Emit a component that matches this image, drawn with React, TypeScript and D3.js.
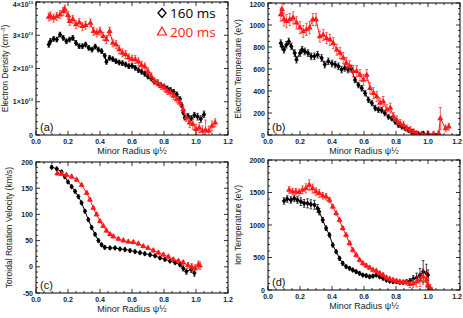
import React from "react";
import * as d3 from "d3";

// minor radius axis shared by all panels
const xTicks = [0, 0.2, 0.4, 0.6, 0.8, 1.0, 1.2];

// [x, y, err]
const density160 = [
  [0.08, 2.72, 0.08], [0.09, 2.82, 0.08], [0.11, 2.89, 0.07], [0.13, 2.87, 0.07], [0.15, 3.02, 0.07],
  [0.17, 2.92, 0.07], [0.19, 2.82, 0.07], [0.21, 2.87, 0.07], [0.23, 2.92, 0.07], [0.25, 2.77, 0.07],
  [0.27, 2.67, 0.07], [0.29, 2.67, 0.07], [0.31, 2.72, 0.07], [0.33, 2.62, 0.07], [0.35, 2.57, 0.07],
  [0.37, 2.66, 0.07], [0.39, 2.57, 0.07], [0.41, 2.52, 0.07], [0.43, 2.38, 0.07], [0.44, 2.2, 0.07],
  [0.46, 2.32, 0.07], [0.48, 2.28, 0.07], [0.5, 2.22, 0.07], [0.52, 2.18, 0.07], [0.54, 2.16, 0.07],
  [0.56, 2.12, 0.07], [0.58, 2.07, 0.07], [0.6, 2.08, 0.07], [0.62, 2.02, 0.07], [0.64, 1.95, 0.07],
  [0.66, 1.9, 0.07], [0.68, 1.84, 0.07], [0.7, 1.76, 0.07], [0.72, 1.7, 0.07], [0.74, 1.62, 0.07],
  [0.76, 1.56, 0.07], [0.78, 1.5, 0.07], [0.8, 1.46, 0.07], [0.82, 1.4, 0.07], [0.84, 1.36, 0.07],
  [0.86, 1.3, 0.07], [0.88, 1.22, 0.07], [0.9, 1.08, 0.07], [0.91, 0.9, 0.07], [0.92, 0.68, 0.07],
  [0.93, 0.52, 0.07], [0.95, 0.57, 0.08], [0.97, 0.5, 0.08], [0.99, 0.6, 0.08], [1.01, 0.55, 0.1],
  [1.03, 0.48, 0.1], [1.05, 0.62, 0.1],
];
const density200 = [
  [0.08, 3.55, 0.12], [0.09, 3.58, 0.12], [0.11, 3.52, 0.12], [0.13, 3.57, 0.12], [0.15, 3.62, 0.12],
  [0.17, 3.72, 0.12], [0.18, 3.79, 0.12], [0.2, 3.6, 0.12], [0.21, 3.42, 0.12], [0.23, 3.48, 0.12],
  [0.25, 3.32, 0.12], [0.27, 3.38, 0.12], [0.29, 3.27, 0.12], [0.31, 3.3, 0.12], [0.34, 3.37, 0.12],
  [0.36, 3.12, 0.12], [0.38, 3.07, 0.12], [0.4, 3.12, 0.12], [0.42, 2.97, 0.12], [0.44, 2.87, 0.12],
  [0.46, 3.12, 0.12], [0.48, 2.77, 0.12], [0.5, 2.72, 0.12], [0.52, 2.57, 0.12], [0.54, 2.47, 0.12],
  [0.56, 2.42, 0.12], [0.58, 2.32, 0.12], [0.6, 2.28, 0.12], [0.62, 2.27, 0.12], [0.64, 2.2, 0.12],
  [0.66, 2.1, 0.12], [0.68, 2.05, 0.12], [0.7, 1.9, 0.12], [0.72, 1.77, 0.1], [0.74, 1.62, 0.1],
  [0.76, 1.57, 0.1], [0.78, 1.47, 0.1], [0.8, 1.42, 0.1], [0.82, 1.32, 0.1], [0.84, 1.27, 0.1],
  [0.86, 1.17, 0.1], [0.88, 1.07, 0.1], [0.9, 0.97, 0.1], [0.92, 0.77, 0.1], [0.94, 0.52, 0.12],
  [0.96, 0.37, 0.15], [0.98, 0.32, 0.15], [1.0, 0.17, 0.15], [1.02, 0.22, 0.15], [1.04, 0.12, 0.15],
  [1.06, 0.15, 0.3], [1.08, 0.12, 0.15], [1.1, 0.27, 0.15], [1.12, 0.37, 0.12],
];

const te160 = [
  [0.08, 835, 30], [0.088, 805, 30], [0.1, 775, 30], [0.115, 820, 30], [0.13, 850, 30], [0.146, 805, 30],
  [0.167, 745, 30], [0.178, 685, 30], [0.2, 745, 30], [0.213, 775, 30], [0.23, 760, 30], [0.25, 745, 30],
  [0.27, 715, 30], [0.29, 715, 30], [0.31, 730, 30], [0.335, 700, 30], [0.355, 640, 30], [0.377, 670, 30],
  [0.4, 650, 30], [0.42, 640, 30], [0.44, 625, 30], [0.46, 595, 30], [0.48, 610, 30], [0.5, 595, 30],
  [0.52, 605, 30], [0.544, 500, 25], [0.565, 455, 25], [0.586, 425, 25], [0.607, 380, 25], [0.628, 320, 25],
  [0.649, 290, 25], [0.67, 245, 25], [0.69, 230, 25], [0.71, 225, 25], [0.73, 200, 25], [0.753, 165, 20],
  [0.774, 150, 20], [0.795, 120, 20], [0.816, 90, 20], [0.837, 75, 20], [0.858, 60, 20], [0.879, 45, 20],
  [0.9, 30, 20], [0.92, 15, 15], [0.94, 10, 15], [0.97, 15, 15],
];
const te200 = [
  [0.08, 1095, 60], [0.088, 1140, 60], [0.1, 1050, 60], [0.115, 1035, 60], [0.136, 1050, 55], [0.157, 1065, 55],
  [0.178, 1020, 55], [0.2, 975, 55], [0.22, 940, 55], [0.24, 960, 55], [0.26, 975, 55], [0.28, 1050, 55],
  [0.3, 1050, 55], [0.324, 895, 50], [0.345, 910, 50], [0.366, 880, 50], [0.387, 865, 50], [0.408, 835, 50],
  [0.43, 775, 50], [0.45, 745, 50], [0.47, 700, 50], [0.49, 655, 50], [0.51, 625, 50], [0.533, 580, 50],
  [0.554, 580, 50], [0.575, 545, 50], [0.596, 500, 50], [0.617, 545, 50], [0.638, 425, 50], [0.659, 380, 50],
  [0.68, 350, 45], [0.7, 290, 45], [0.72, 305, 45], [0.743, 230, 45], [0.764, 245, 45], [0.785, 165, 40],
  [0.805, 135, 40], [0.826, 105, 35], [0.847, 90, 35], [0.868, 60, 30], [0.89, 45, 30], [0.91, 30, 25],
  [0.93, 15, 20], [0.96, 10, 20], [1.0, 15, 20], [1.035, 10, 20], [1.067, 15, 20], [1.077, 150, 100],
  [1.11, 60, 30], [1.13, 75, 30],
];

const vt160 = [
  [0.098, 190, 3], [0.13, 187, 3], [0.16, 181, 3], [0.18, 172, 3], [0.2, 162, 3], [0.223, 153, 3],
  [0.244, 144, 3], [0.265, 134, 3], [0.285, 122, 3], [0.306, 106, 3], [0.327, 90, 3], [0.348, 75, 3],
  [0.369, 62, 3], [0.39, 50, 3], [0.41, 42, 3], [0.43, 37, 3], [0.4625, 36, 3], [0.494, 36, 3],
  [0.525, 34, 3], [0.556, 33, 3], [0.5875, 31, 3], [0.619, 29, 3], [0.65, 27, 3], [0.68, 25, 3],
  [0.7125, 23, 3], [0.744, 21, 3], [0.775, 17, 3], [0.806, 14, 3], [0.8375, 11, 3], [0.869, 8, 3],
  [0.9, 4, 4], [0.92, -3, 5], [0.94, -9, 5], [0.97, -5, 6], [0.99, -12, 6],
];
const vt200 = [
  [0.133, 178, 3], [0.16, 177, 3], [0.19, 175, 3], [0.223, 172, 3], [0.254, 166, 3], [0.285, 156, 3],
  [0.317, 141, 3], [0.3375, 128, 3], [0.358, 112, 3], [0.379, 100, 3], [0.4, 87, 3], [0.42, 78, 3],
  [0.44, 69, 3], [0.4625, 62, 3], [0.483, 58, 3], [0.515, 53, 3], [0.546, 50, 3], [0.577, 48, 3],
  [0.608, 47, 3], [0.64, 44, 3], [0.67, 39, 3], [0.7, 36, 3], [0.733, 31, 3], [0.765, 27, 3],
  [0.796, 23, 3], [0.827, 19, 3], [0.858, 14, 3], [0.89, 11, 3], [0.92, 8, 4], [0.95, 3, 5],
  [0.973, 0, 6], [0.994, -3, 7], [1.015, 4, 7], [1.025, 2, 7],
];

const ti160 = [
  [0.1, 1370, 50], [0.12, 1400, 50], [0.143, 1385, 50], [0.164, 1410, 50], [0.184, 1385, 50], [0.205, 1360, 60],
  [0.226, 1333, 60], [0.247, 1333, 70], [0.268, 1318, 70], [0.29, 1310, 70], [0.31, 1256, 60], [0.32, 1205, 50],
  [0.342, 1077, 40], [0.363, 950, 35], [0.384, 846, 30], [0.405, 692, 30], [0.426, 590, 30], [0.447, 487, 30],
  [0.467, 410, 30], [0.488, 360, 25], [0.51, 333, 25], [0.53, 308, 25], [0.551, 282, 25], [0.572, 256, 25],
  [0.593, 230, 25], [0.614, 220, 25], [0.635, 205, 25], [0.656, 215, 25], [0.677, 230, 25], [0.698, 205, 25],
  [0.719, 180, 25], [0.74, 154, 25], [0.761, 138, 25], [0.782, 128, 25], [0.803, 128, 25], [0.824, 118, 25],
  [0.845, 118, 30], [0.866, 128, 30], [0.887, 138, 40], [0.908, 170, 50], [0.929, 190, 70], [0.95, 230, 100],
  [0.97, 282, 170], [0.99, 256, 140], [1.0, 230, 80],
];
const ti200 = [
  [0.132, 1540, 50], [0.153, 1513, 50], [0.174, 1513, 50], [0.195, 1503, 50], [0.216, 1540, 60], [0.237, 1564, 70],
  [0.258, 1615, 80], [0.279, 1560, 70], [0.3, 1513, 60], [0.32, 1487, 60], [0.342, 1450, 50], [0.363, 1436, 50],
  [0.384, 1385, 40], [0.405, 1282, 30], [0.426, 1180, 30], [0.447, 1077, 30], [0.467, 950, 30], [0.488, 846, 30],
  [0.51, 718, 30], [0.53, 615, 30], [0.551, 538, 30], [0.572, 462, 30], [0.593, 410, 30], [0.614, 374, 30],
  [0.635, 344, 30], [0.656, 308, 30], [0.677, 292, 30], [0.698, 256, 30], [0.719, 231, 30], [0.74, 190, 30],
  [0.761, 170, 30], [0.782, 154, 30], [0.803, 138, 30], [0.824, 128, 30], [0.845, 118, 30], [0.866, 118, 40],
  [0.887, 87, 50], [0.908, 102, 60], [0.929, 128, 80], [0.95, 154, 100], [0.97, 205, 120], [0.99, 154, 120],
  [1.0, 77, 100], [1.013, 26, 60], [1.023, 0, 40],
];

const densityTicks = [0, 1, 2, 3, 4];
const teTicks = [0, 200, 400, 600, 800, 1000, 1200];
const vtTicks = [-50, 0, 50, 100, 150, 200];
const tiTicks = [0, 500, 1000, 1500, 2000];

const RED = "#ff1a1a";
const tickFont = "'Liberation Sans', Arial, sans-serif";

type Pt = number[];
type Box = { x0: number; x1: number; y0: number; y1: number };

function Panel({ box, yDomain, yTicks, yMinor, xMinor, title, tag, black, red, sciLabels, titleX }: {
  box: Box; yDomain: [number, number]; yTicks: number[]; yMinor: number; xMinor: number;
  title: React.ReactNode; tag: string; black: Pt[]; red: Pt[]; sciLabels?: boolean; titleX: number;
}) {
  const x = d3.scaleLinear().domain([0, 1.2]).range([box.x0, box.x1]);
  const y = d3.scaleLinear().domain(yDomain).range([box.y1, box.y0]);
  const line = d3.line<Pt>().x((d) => x(d[0])).y((d) => y(d[1]));
  const xMinorTicks = d3.range(0, 1.2 + 1e-9, xMinor);
  const yMinorTicks = d3.range(yDomain[0], yDomain[1] + 1e-9, yMinor);
  const tri = d3.symbol(d3.symbolTriangle, 16)()!;
  const dia = "M0,-2.9L2.2,0L0,2.9L-2.2,0Z";
  const clipId = "clip" + tag;
  const errBars = (pts: Pt[], color: string) =>
    pts.map((d, i) => (
      <g key={i} stroke={color} strokeWidth={0.7}>
        <line x1={x(d[0])} x2={x(d[0])} y1={y(d[1] - d[2])} y2={y(d[1] + d[2])} />
        <line x1={x(d[0]) - 1.3} x2={x(d[0]) + 1.3} y1={y(d[1] - d[2])} y2={y(d[1] - d[2])} />
        <line x1={x(d[0]) - 1.3} x2={x(d[0]) + 1.3} y1={y(d[1] + d[2])} y2={y(d[1] + d[2])} />
      </g>
    ));
  return (
    <g>
      <defs>
        <clipPath id={clipId}>
          <rect x={box.x0} y={box.y0} width={box.x1 - box.x0} height={box.y1 - box.y0} />
        </clipPath>
      </defs>
      <g clipPath={`url(#${clipId})`}>
        {errBars(black, "#000")}
        <path d={line(black)!} fill="none" stroke="#000" strokeWidth={1} />
        {black.map((d, i) => (
          <path key={i} d={dia} transform={`translate(${x(d[0])},${y(d[1])})`} fill="#000" />
        ))}
        {errBars(red, RED)}
        <path d={line(red)!} fill="none" stroke={RED} strokeWidth={1} />
        {red.map((d, i) => (
          <path key={i} d={tri} transform={`translate(${x(d[0])},${y(d[1])})`} fill={RED} />
        ))}
      </g>
      <rect x={box.x0} y={box.y0} width={box.x1 - box.x0} height={box.y1 - box.y0} fill="none" stroke="#000" strokeWidth={1} />
      <g stroke="#000" strokeWidth={0.8}>
        {xMinorTicks.map((t, i) => {
          const major = xTicks.some((m) => Math.abs(m - t) < 1e-6);
          const len = major ? 4 : 2;
          return (
            <g key={i}>
              <line x1={x(t)} x2={x(t)} y1={box.y1} y2={box.y1 - len} />
              <line x1={x(t)} x2={x(t)} y1={box.y0} y2={box.y0 + len} />
            </g>
          );
        })}
        {yMinorTicks.map((t, i) => {
          const major = yTicks.some((m) => Math.abs(m - t) < 1e-6);
          const len = major ? 4 : 2;
          return (
            <g key={i}>
              <line x1={box.x0} x2={box.x0 + len} y1={y(t)} y2={y(t)} />
              <line x1={box.x1} x2={box.x1 - len} y1={y(t)} y2={y(t)} />
            </g>
          );
        })}
      </g>
      <g fontFamily={tickFont} fontSize={7} fontWeight="bold" fill="#222">
        {xTicks.map((t) => (
          <text key={t} x={Math.min(x(t), 457)} y={box.y1 + 9} textAnchor="middle">{d3.format(".1f")(t)}</text>
        ))}
        {yTicks.map((t) => (
          <text key={t} x={box.x0 - 3} y={Math.max(y(t) + 2.5, 7)} textAnchor="end">
            {sciLabels && t !== 0 ? (
              <>
                {`${t}×10`}
                <tspan fontSize={4} dy={-3}>13</tspan>
              </>
            ) : (
              t
            )}
          </text>
        ))}
      </g>
      <text x={(box.x0 + box.x1) / 2} y={box.y1 + 19} textAnchor="middle" fontFamily={tickFont} fontSize={9} fill="#222">
        Minor Radius ψ½
      </text>
      <text transform={`translate(${titleX},${(box.y0 + box.y1) / 2}) rotate(-90)`} textAnchor="middle"
        fontFamily={tickFont} fontSize={8.5} fill="#222">
        {title}
      </text>
      <text x={box.x0 + 4} y={box.y1 - 4} fontFamily={tickFont} fontSize={11} fill="#111">({tag})</text>
    </g>
  );
}

export default function App() {
  return (
    <svg width={463} height={318} style={{ position: "absolute", left: 0, top: 0, background: "#fff" }}>
      <Panel box={{ x0: 36, x1: 228, y0: 2, y1: 135 }} yDomain={[0, 4]} yTicks={densityTicks} yMinor={0.2}
        xMinor={0.05} title={<>Electron Density (cm<tspan fontSize={5.5} dy={-3}>−3</tspan><tspan dy={3}>)</tspan></>}
        tag="a" black={density160} red={density200} sciLabels titleX={8} />
      <Panel box={{ x0: 268, x1: 460, y0: 3, y1: 135 }} yDomain={[0, 1200]} yTicks={teTicks} yMinor={50}
        xMinor={0.05} title="Electron Temperature (eV)" tag="b" black={te160} red={te200} titleX={241} />
      <Panel box={{ x0: 36, x1: 228, y0: 162, y1: 293 }} yDomain={[-50, 200]} yTicks={vtTicks} yMinor={10}
        xMinor={0.05} title="Toroidal Rotation Velocity (km/s)" tag="c" black={vt160} red={vt200} titleX={12} />
      <Panel box={{ x0: 268, x1: 460, y0: 160, y1: 290 }} yDomain={[0, 2000]} yTicks={tiTicks} yMinor={100}
        xMinor={0.05} title="Ion Temperature (eV)" tag="d" black={ti160} red={ti200} titleX={241} />
      <g fontFamily="'Open Sans', 'Liberation Sans', sans-serif" fontSize={13.5}>
        <path d="M162,8.5L166,13L162,17.5L158,13Z" fill="none" stroke="#000" strokeWidth={1.3} />
        <text x={170} y={18} fill="#000">160 ms</text>
        <path d="M162,27L166.5,35L157.5,35Z" fill="none" stroke={RED} strokeWidth={1.2} />
        <text x={170} y={36.5} fill={RED}>200 ms</text>
      </g>
    </svg>
  );
}
